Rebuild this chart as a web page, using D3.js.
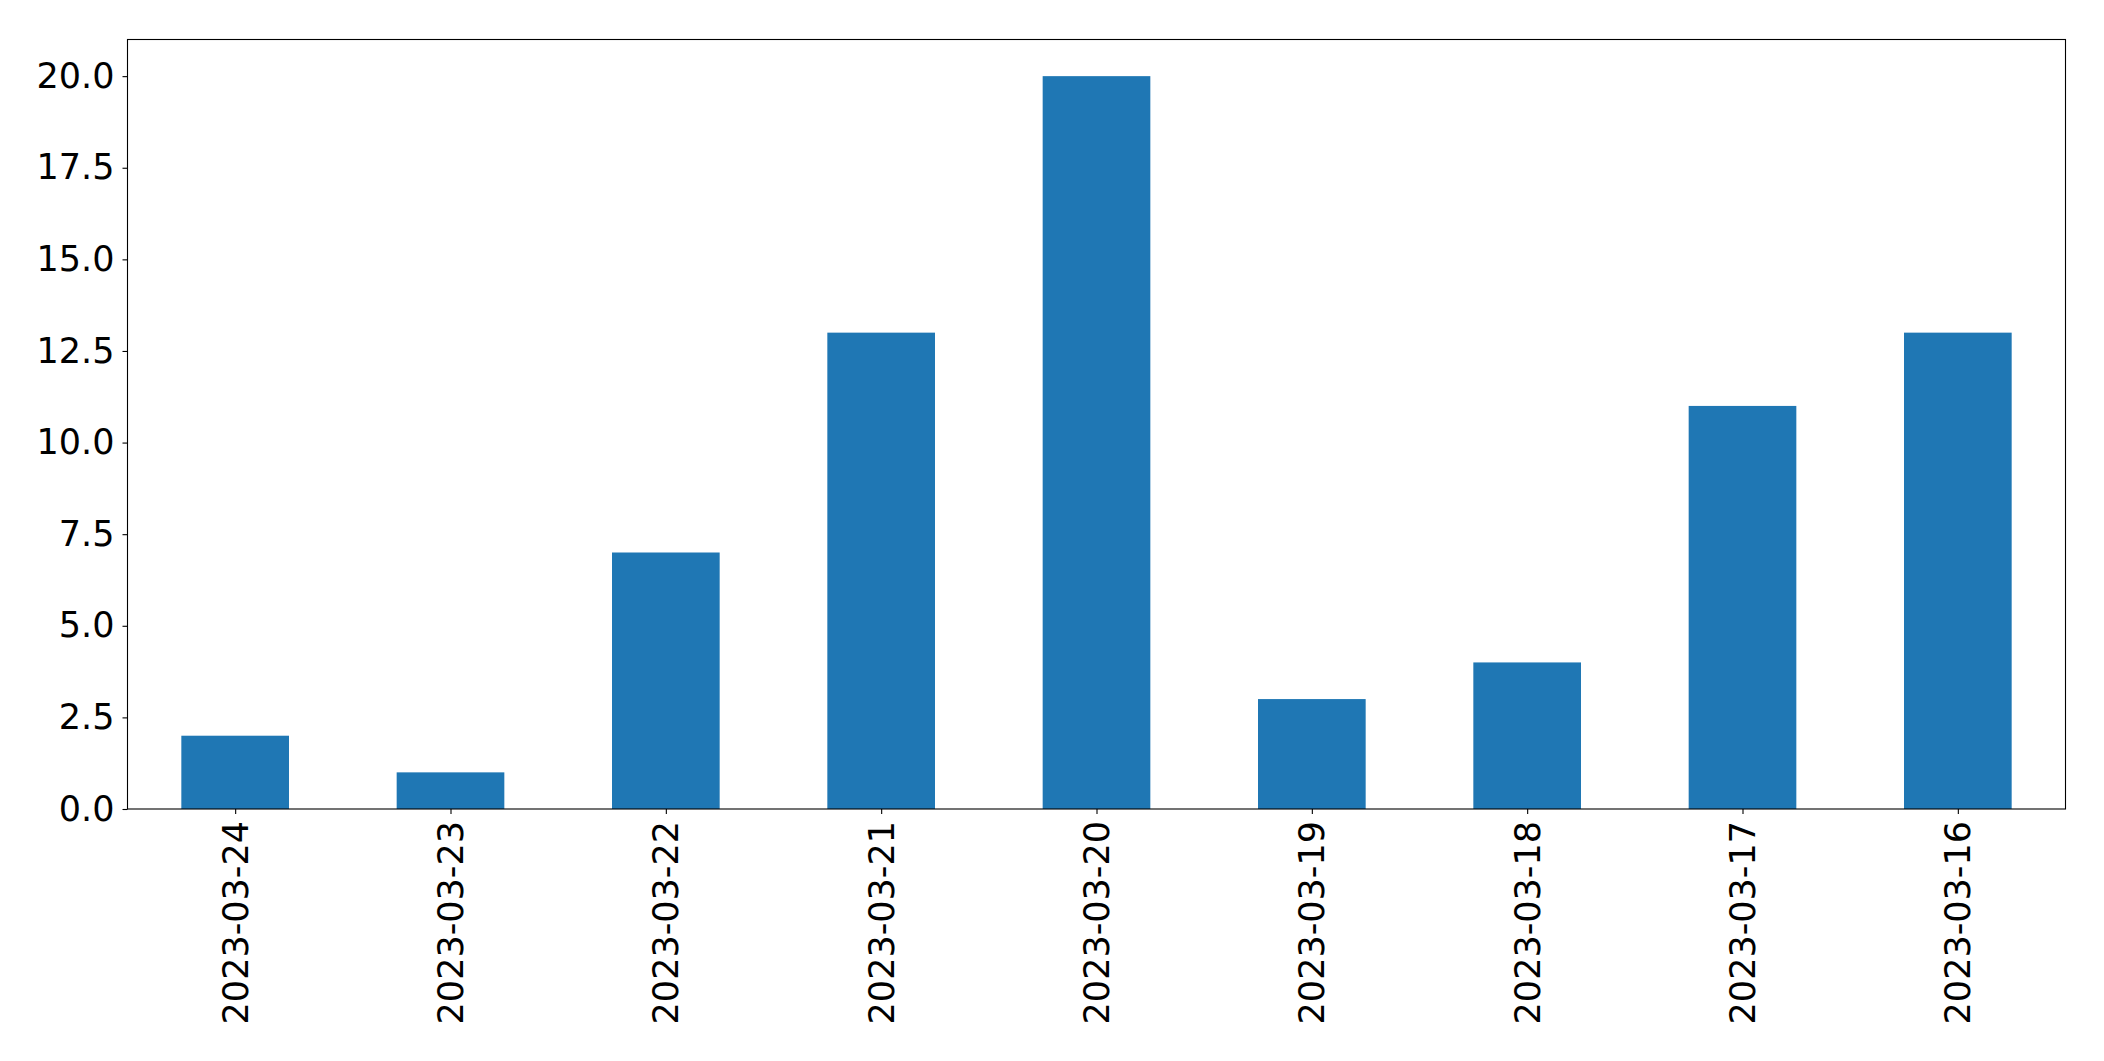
<!DOCTYPE html>
<html>
<head>
<meta charset="utf-8">
<script src="https://cdn.jsdelivr.net/npm/d3@7"></script>
<style>
  html, body { margin: 0; padding: 0; background: #ffffff; }
  svg { display: block; }
</style>
</head>
<body>
<script>
const categories = ["2023-03-24", "2023-03-23", "2023-03-22", "2023-03-21", "2023-03-20", "2023-03-19", "2023-03-18", "2023-03-17", "2023-03-16"];
const values = [2, 1, 7, 13, 20, 3, 4, 11, 13];
const yTicks = [0, 2.5, 5, 7.5, 10, 12.5, 15, 17.5, 20];

const W = 2104, H = 1061;
const margin = { left: 127.5, right: W - 2065.5, top: 39.5, bottom: H - 809 };
const pw = W - margin.left - margin.right;
const ph = H - margin.top - margin.bottom;

const svg = d3.select("body").append("svg").attr("width", W).attr("height", H);
const g = svg.append("g").attr("transform", `translate(${margin.left},${margin.top})`);

const x = d3.scaleLinear().domain([-0.5, categories.length - 0.5]).range([0, pw]);
const y = d3.scaleLinear().domain([0, 21]).range([ph, 0]);
const barW = x(0.5) - x(0);

g.selectAll("rect.bar").data(values).enter().append("rect")
  .attr("class", "bar")
  .attr("x", (d, i) => x(i) - barW / 2)
  .attr("width", barW)
  .attr("y", d => y(d))
  .attr("height", d => y(0) - y(d))
  .attr("fill", "#1f77b4");

const font = "'DejaVu Sans', sans-serif";

// Y axis
const yAxis = d3.axisLeft(y).tickValues(yTicks).tickFormat(d3.format(".1f")).tickSize(5).tickPadding(8);
const ya = g.append("g").call(yAxis);
ya.select(".domain").remove();
ya.selectAll("line").attr("stroke", "#000").attr("stroke-width", 1.1);
ya.selectAll("text").attr("font-family", font).attr("font-size", 35).attr("fill", "#000");

// X axis
const xAxis = d3.axisBottom(x).tickValues(d3.range(categories.length)).tickFormat(i => categories[i]).tickSize(5).tickPadding(0);
const xa = g.append("g").attr("transform", `translate(0,${ph})`).call(xAxis);
xa.select(".domain").remove();
xa.selectAll("line").attr("stroke", "#000").attr("stroke-width", 1.1);
xa.selectAll("text")
  .attr("font-family", font).attr("font-size", 35).attr("fill", "#000")
  .attr("transform", "rotate(-90)")
  .attr("text-anchor", "end")
  .attr("dy", null)
  .attr("dominant-baseline", "central")
  .attr("x", -12)
  .attr("y", 0);

// Frame
g.append("rect").attr("x", 0).attr("y", 0).attr("width", pw).attr("height", ph)
  .attr("fill", "none").attr("stroke", "#000").attr("stroke-width", 1.1);
</script>
</body>
</html>
